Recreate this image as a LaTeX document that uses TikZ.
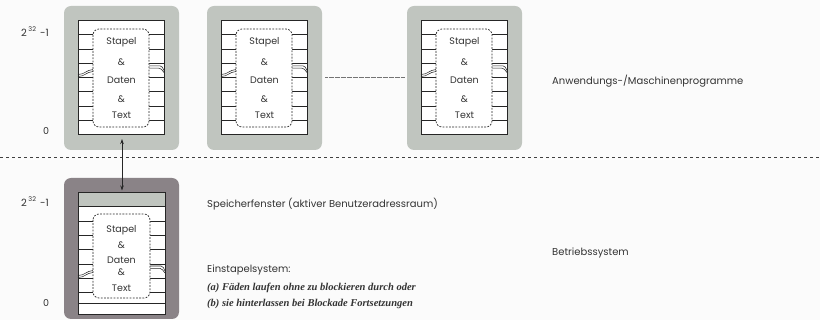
\documentclass[tikz,border=0pt]{standalone}
\usepackage{fontspec}
\setmainfont{Poppins}
\newfontfamily\serifbi{Liberation Serif}
\usetikzlibrary{arrows.meta}
\definecolor{boxgray}{HTML}{C0C5BF}
\definecolor{osgray}{HTML}{8A8387}
\definecolor{bgc}{HTML}{FBFBFB}
\definecolor{txt}{HTML}{333333}
\tikzset{
  lbl/.style={font=\fontsize{10}{11}\selectfont, text=txt, inner sep=0pt, anchor=west},
  stk/.style={font=\fontsize{9.5}{10}\selectfont, text=txt, inner sep=0pt},
  itl/.style={font=\serifbi\bfseries\itshape\fontsize{10.5}{11}\selectfont, text=txt, inner sep=0pt, anchor=west},
  rowline/.style={line width=1pt, draw=black!85},
  dashbox/.style={draw=black!85, dash pattern=on 1.8pt off 1.4pt, line width=0.7pt, rounded corners=6pt, fill=white},
  frame/.style={draw=black!85, line width=1pt, fill=white},
  wave/.style={line width=0.55pt, draw=black!85},
}
\newcommand\hilabel{2\hspace{1.5pt}\raisebox{5pt}{\fontsize{6.5}{7}\selectfont 32}\hspace{4pt}-1}
\newcommand\progbox[2]{% #1 = x offset, #2 = name prefix
\begin{scope}[shift={(#1,0)}]
  \fill[boxgray, rounded corners=7pt] (64,6) rectangle (179,150);
  \draw[frame] (78,21) rectangle (164,135);
  \foreach \yy in {35,49.25,63.5,77.75,92,106.25,120.5}
    \draw[rowline] (78,\yy) -- (164,\yy);
  \draw[wave] (78,74.5) .. controls (85,74.5) and (86,70) .. (93,69.5);
  \draw[wave] (78,76.5) .. controls (85,76.5) and (86,72) .. (93,71.5);
  \draw[wave] (149,65.8) -- (160,65.8) .. controls (162,65.8) and (163,68) .. (164,70.5);
  \draw[wave] (149,68.2) -- (159,68.2) .. controls (161,68.2) and (162,70) .. (164,72.5);
  \draw[dashbox] (93,29) rectangle (149,127);
  \node[stk] (#2s) at (121.5,42.7) {Stapel};
  \node[stk] (#2a1) at (121.5,62.2) {\&};
  \node[stk] (#2d) at (121.5,80.7) {Daten};
  \node[stk] (#2a2) at (121.5,99.3) {\&};
  \node[stk] (#2t) at (121.5,115.7) {Text};
\end{scope}}
\begin{document}
\begin{tikzpicture}[x=1pt,y=-1pt]
  \fill[bgc] (0,0) rectangle (820,320);
  \useasboundingbox (0,0) rectangle (820,320);
  % top programme boxes
  \progbox{0}{p1}
  \progbox{143}{p2}
  \progbox{343}{p3}
  \coordinate (dl) at (325,77.7);
  \coordinate (dr) at (405,77.7);
  \draw[black!55, line width=0.6pt, dash pattern=on 0.6pt off 0.6pt] (dl) -- (dr);
  % labels top
  \node[lbl] (hi1) at (21,32) {\hilabel};
  \node[stk] (lo1) at (46,131) {0};
  \node[lbl] (app) at (552,80.7) {Anwendungs-/Maschinenprogramme};
  % separator
  \coordinate (sl) at (0,157);
  \coordinate (sr) at (820,157);
  \draw[black!75, line width=0.8pt, dash pattern=on 3pt off 3pt] (sl) -- (sr);
  % bottom box
  \fill[osgray, rounded corners=7pt] (64,178) rectangle (179,319);
  \draw[frame] (78,193) rectangle (165,315);
  \filldraw[fill=boxgray, draw=black!85, line width=1pt] (78,193) rectangle (165,207);
  \foreach \yy in {221.3,235.6,250,264.3,278.6,293,304}
    \draw[rowline] (78,\yy) -- (165,\yy);
  \draw[wave] (78,275.5) .. controls (85,275.5) and (86,271) .. (93,270.5);
  \draw[wave] (78,277.5) .. controls (85,277.5) and (86,273) .. (93,272.5);
  \draw[wave] (150,266) -- (161,266) .. controls (163,266) and (164,268.5) .. (165,271);
  \draw[wave] (150,268.4) -- (160,268.4) .. controls (162,268.4) and (163,270.5) .. (165,273);
  \draw[dashbox] (93,214) rectangle (150,298);
  \node[stk] (bs) at (121.5,230) {Stapel};
  \node[stk] (ba1) at (121.5,245.5) {\&};
  \node[stk] (bd) at (121.5,260) {Daten};
  \node[stk] (ba2) at (121.5,272.5) {\&};
  \node[stk] (bt) at (121.5,288) {Text};
  \node[lbl] (hi2) at (21,202) {\hilabel};
  \node[stk] (lo2) at (46,303) {0};
  % arrow
  \coordinate (au) at (122,139);
  \coordinate (ad) at (122,190.5);
  \draw[{Stealth[length=5pt,width=3.5pt]}-{Stealth[length=5pt,width=3.5pt]}, line width=0.7pt, black!85] (au) -- (ad);
  % texts
  \node[lbl] (sf) at (207,204) {Speicherfenster (aktiver Benutzeradressraum)};
  \node[lbl] (es) at (207,270) {Einstapelsystem:};
  \node[itl] (ia) at (207,288.3) {(a) Fäden laufen ohne zu blockieren durch oder};
  \node[itl] (ib) at (207,304) {(b) sie hinterlassen bei Blockade Fortsetzungen};
  \node[lbl] (bs2) at (552,252.7) {Betriebssystem};
\end{tikzpicture}
\end{document}
